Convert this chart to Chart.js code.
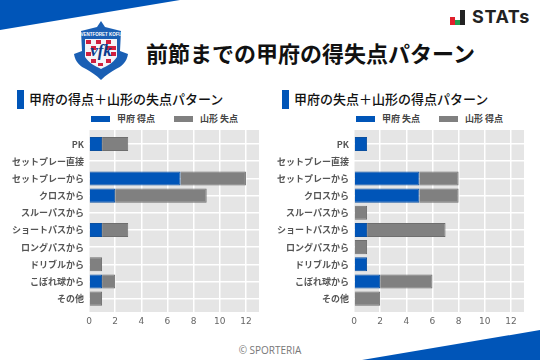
<!DOCTYPE html>
<html lang="ja">
<head>
<meta charset="utf-8">
<script src="https://cdn.jsdelivr.net/npm/chart.js@4"></script>
<style>
html, body { margin: 0; padding: 0; background: #fff; }
#page { position: relative; width: 540px; height: 360px; overflow: hidden; font-family: "Noto Sans CJK JP", sans-serif; }
#page > * { position: absolute; }
.sub { font-size: 13px; font-weight: 500; line-height: 20px; top: 89px; color: #111; white-space: nowrap; }
.mark { width: 7px; height: 19px; top: 90px; background: #0055b8; }
.key { width: 19px; height: 6px; top: 116px; }
.keytext { top: 112px; font-size: 9px; line-height: 14px; font-weight: 700; color: #444; white-space: nowrap; }
#title { left: 146px; top: 36px; font-size: 22px; line-height: 32px; font-weight: 700; color: #111; white-space: nowrap; }
#foot { left: 0; width: 540px; top: 343px; text-align: center; font: 10px/14px "Open Sans", sans-serif; color: #777; }
#stats { left: 472px; top: 5px; font: 700 18px/24px "Inter", sans-serif; color: #222; letter-spacing: 0.6px; }
</style>
</head>
<body>
<div id="page">
  <svg style="left:0;top:0" width="540" height="360">
    <polygon points="0,0 180,0 0,30" fill="#0055b8"/>
    <polygon points="362,360 540,330 540,360" fill="#0055b8"/>
    <rect x="450" y="17" width="5" height="8" fill="#e0202c"/>
    <rect x="455" y="20" width="5" height="5" fill="#1e9e50"/>
    <rect x="460" y="10" width="5" height="15" fill="#222"/>
    <path d="M101 21 L105 27 L121 31 L120 51 L128 54 C127 62 121 67 116 69 C111 72 106 75 101 80 C96 75 91 72 86 69 C81 67 75 62 74 54 L82 51 L81 31 L97 27 Z" fill="#1a5fb4"/>
    <path d="M85 39 H117 V57 C113 63 107 66 101 69 C95 66 89 63 85 57 Z" fill="#f4f4f8"/>
    <g fill="#d0203f">
      <rect x="86" y="40" width="5" height="4"/><rect x="96" y="40" width="5" height="4"/><rect x="106" y="40" width="5" height="4"/>
      <rect x="91" y="46" width="5" height="4"/><rect x="106" y="46" width="5" height="4"/><rect x="111" y="46" width="5" height="4"/>
      <rect x="86" y="52" width="5" height="4"/><rect x="111" y="52" width="5" height="4"/>
      <rect x="91" y="59" width="5" height="4"/><rect x="106" y="59" width="5" height="4"/><rect x="98" y="63" width="5" height="3"/>
    </g>
    <text x="101" y="56" text-anchor="middle" font-family="Liberation Serif" font-style="italic" font-weight="700" font-size="17" fill="#0b3c8c">vfk</text>
    <text x="101" y="36" text-anchor="middle" font-family="Liberation Sans" font-weight="700" font-size="4.5" fill="#fff">VENTFORET KOFU</text>
  </svg>
  <div id="stats">STATs</div>
  <div id="title">前節までの甲府の得失点パターン</div>
  <div class="mark" style="left:17px"></div>
  <div class="sub" style="left:29px">甲府の得点＋山形の失点パターン</div>
  <div class="mark" style="left:282px"></div>
  <div class="sub" style="left:294px">甲府の失点＋山形の得点パターン</div>
  <div class="key" style="left:91px;background:#0055b8"></div>
  <div class="keytext" style="left:117px" id="keyL0"></div>
  <div class="key" style="left:174px;background:#808080"></div>
  <div class="keytext" style="left:200px" id="keyL1"></div>
  <div class="key" style="left:356px;background:#0055b8"></div>
  <div class="keytext" style="left:382px" id="keyR0"></div>
  <div class="key" style="left:439px;background:#808080"></div>
  <div class="keytext" style="left:465px" id="keyR1"></div>
  <canvas id="chartL" style="left:0;top:130px"></canvas>
  <canvas id="chartR" style="left:270px;top:130px"></canvas>
  <div id="foot">© SPORTERIA</div>
</div>
<script>
const categories = ["PK", "セットプレー直接", "セットプレーから", "クロスから", "スルーパスから", "ショートパスから", "ロングパスから", "ドリブルから", "こぼれ球から", "その他"];
const xTicks = [0, 2, 4, 6, 8, 10, 12];

const leftLabels = ["甲府 得点", "山形 失点"];
const kofuScored = [1, 0, 7, 2, 0, 1, 0, 0, 1, 0];
const yamagataConceded = [2, 0, 5, 7, 0, 2, 0, 1, 1, 1];

const rightLabels = ["甲府 失点", "山形 得点"];
const kofuConceded = [1, 0, 5, 5, 0, 1, 0, 1, 2, 0];
const yamagataScored = [0, 0, 3, 3, 1, 6, 1, 0, 4, 2];

const BLUE = "#0055b8";
const GREY = "#808080";

// grey panel behind the plot
const panel = {
    id: "panel",
    beforeDraw(chart) {
        const a = chart.chartArea;
        chart.ctx.fillStyle = "#e5e5e5";
        chart.ctx.fillRect(a.left, a.top, a.width, a.height);
    },
};

function series(label, values, color, edge) {
    return {
        label: label,
        data: values.map((v, i) => ({ x: v, y: i })),
        backgroundColor: color,
        borderColor: edge,
        borderWidth: (ctx) => (ctx.raw && ctx.raw.x === 0 ? 0 : 1),
        borderSkipped: "start",
        barPercentage: 0.82,
        categoryPercentage: 1,
    };
}

function drawChart(id, axisWidth, plotWidth, labels, blue, grey) {
    const canvas = document.getElementById(id);
    canvas.width = 270;
    canvas.height = 200;
    canvas.style.width = "270px";
    canvas.style.height = "200px";
    new Chart(canvas, {
        type: "bar",
        data: {
            datasets: [
                series(labels[0], blue, BLUE, "#0a4f9f"),
                series(labels[1], grey, GREY, "#6e6e6e"),
            ],
        },
        options: {
            indexAxis: "y",
            responsive: false,
            animation: false,
            layout: { padding: { right: 270 - axisWidth - plotWidth } },
            plugins: {
                tooltip: { enabled: false },
                legend: { display: false },
            },
            scales: {
                x: {
                    type: "linear",
                    stacked: true,
                    min: 0,
                    max: 13,
                    afterBuildTicks: (s) => { s.ticks = xTicks.map((v) => ({ value: v })); },
                    afterFit: (s) => { s.height = 18; s.paddingLeft = 0; s.paddingRight = 0; },
                    grid: { color: "#ffffff", lineWidth: 1.5, drawTicks: false },
                    border: { display: false },
                    ticks: { color: "#666", padding: 4, maxRotation: 0, font: { family: "'DejaVu Sans'", size: 9 } },
                },
                y: {
                    type: "linear",
                    stacked: true,
                    reverse: true,
                    offset: false,
                    min: -0.82,
                    max: 9.78,
                    afterBuildTicks: (s) => { s.ticks = categories.map((c, i) => ({ value: i })); },
                    // labels stay inside the plot height, no extra room needed
                    afterFit: (s) => { s.width = axisWidth; s.paddingTop = 0; s.paddingBottom = 0; },
                    grid: { offset: false, color: "#ffffff", lineWidth: 1.5, drawTicks: false },
                    border: { display: false },
                    ticks: {
                        color: "#555",
                        padding: 5,
                        callback: (v) => categories[v],
                        font: { family: "'Noto Sans CJK JP'", size: 9, weight: "700" },
                    },
                },
            },
        },
        plugins: [panel],
    });
}

document.getElementById("keyL0").textContent = leftLabels[0];
document.getElementById("keyL1").textContent = leftLabels[1];
document.getElementById("keyR0").textContent = rightLabels[0];
document.getElementById("keyR1").textContent = rightLabels[1];

drawChart("chartL", 89, 170, leftLabels, kofuScored, yamagataConceded);
drawChart("chartR", 84, 170, rightLabels, kofuConceded, yamagataScored);
</script>
</body>
</html>
